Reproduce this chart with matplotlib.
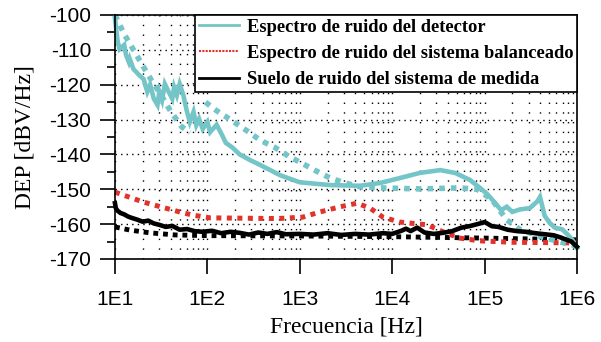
import numpy as np
from matplotlib import pyplot as plt
from matplotlib.lines import Line2D

plt.rcParams['axes.unicode_minus'] = False

# Frequencies are given as log10(f / Hz), levels in dBV/Hz
det_logf = [1.0, 1.02, 1.03, 1.05, 1.10, 1.12, 1.15, 1.16, 1.2, 1.26, 1.31, 1.35,
            1.38, 1.42, 1.46, 1.48, 1.51, 1.54, 1.58, 1.62, 1.64, 1.67, 1.70, 1.74,
            1.78, 1.81, 1.85, 1.88, 1.91, 1.95, 2.0, 2.03, 2.1, 2.16, 2.2, 2.27,
            2.35, 2.46, 2.57, 2.68, 2.79, 3.0, 3.33, 3.65, 3.87, 4.08, 4.3, 4.52,
            4.68, 4.84, 4.95, 5.03, 5.1, 5.18, 5.24, 5.3, 5.38, 5.49, 5.57, 5.6,
            5.65, 5.7, 5.76, 5.84, 5.9, 5.95, 6.0]
det_db = [-101.0, -105.7, -107.7, -109.8, -108.6, -111.5, -113.5, -112.6, -115.5, -117.2,
          -118.4, -122.0, -120.0, -124.0, -125.8, -122.0, -124.4, -119.8, -122.0, -124.0,
          -120.7, -123.0, -119.8, -123.0, -127.8, -130.7, -127.8, -131.6, -129.8, -132.7,
          -130.7, -133.6, -131.5, -134.5, -136.7, -138.0, -140.0, -141.6, -143.0, -144.5,
          -146.0, -148.0, -148.8, -149.0, -148.2, -146.8, -145.3, -144.5, -145.3, -147.3,
          -149.6, -151.4, -153.5, -156.0, -155.0, -156.5, -155.8, -155.4, -153.5, -152.2,
          -157.6, -159.5, -161.0, -161.5, -163.0, -164.5, -166.8]

# dotted fit of the detector spectrum (two pieces)
detfit_logf = [1.0, 1.10, 1.20, 1.30, 1.40, 1.50, 1.60, 1.72, 1.81, np.nan,
               1.98, 2.06, 2.14, 2.25, 2.36, 2.46, 2.57, 2.73, 2.89, 3.0, 3.16,
               3.33, 3.49, 3.65, 3.87, 4.3, 4.73, 4.92, 5.08, 5.24, 5.38, 5.6,
               5.8, 6.0]
detfit_db = [-100.0, -105.5, -110.0, -114.5, -119.0, -123.0, -127.5, -132.0, -133.8, np.nan,
             -125.0, -126.7, -128.2, -130.0, -132.0, -133.8, -135.9, -138.0, -140.7, -142.2,
             -144.5, -146.8, -148.2, -149.3, -149.6, -149.9, -149.6, -150.0, -153.0,
             -158.8, -161.5, -163.5, -165.0, -166.3]

bal_logf = [1.0, 1.02, 1.16, 1.3, 1.49, 1.7, 1.84, 2.03, 2.39, 2.76, 3.03, 3.22,
            3.44, 3.62, 3.76, 3.9, 4.08, 4.38, 4.55, 4.73, 4.95, 5.3, 5.7, 6.0]
bal_db = [-150.8, -151.0, -152.3, -153.6, -155.0, -156.5, -157.4, -158.2, -158.3, -158.4,
          -158.0, -156.5, -155.0, -154.0, -155.4, -158.0, -159.4, -160.2, -162.2, -164.0,
          -164.8, -165.2, -165.3, -165.4]

floor_logf = [1.0, 1.01, 1.03, 1.06, 1.10, 1.14, 1.18, 1.24, 1.30, 1.36, 1.42, 1.48,
              1.55, 1.62, 1.70, 1.78, 1.86, 1.95, 2.05, 2.15, 2.25, 2.35, 2.45, 2.55,
              2.65, 2.75, 2.85, 3.0, 3.15, 3.3, 3.45, 3.6, 3.75, 3.9, 4.0, 4.1,
              4.15, 4.2, 4.27, 4.35, 4.45, 4.55, 4.65, 4.75, 4.85, 4.95, 5.0,
              5.08, 5.15, 5.25, 5.35, 5.45, 5.55, 5.65, 5.75, 5.82, 5.88, 5.94, 6.0]
floor_db = [-154.0, -155.5, -156.2, -156.8, -157.2, -157.8, -158.2, -158.7, -159.3, -159.0,
            -159.8, -160.2, -160.8, -160.5, -161.6, -161.4, -162.0, -162.2, -161.9, -162.6,
            -162.2, -162.5, -163.0, -162.4, -162.8, -162.3, -162.9, -162.8, -163.0, -162.6,
            -163.1, -162.8, -163.0, -162.6, -162.8, -161.9, -161.3, -162.0, -161.0, -162.4,
            -162.8, -162.5, -162.0, -161.0, -160.5, -159.8, -159.4, -160.6, -160.8, -161.6,
            -162.0, -162.2, -162.6, -162.9, -163.2, -163.8, -164.4, -165.0, -166.5]

floorfit_logf = [1.0, 1.16, 1.38, 1.65, 2.0, 3.0, 4.0, 5.0, 6.0]
floorfit_db = [-160.8, -161.7, -162.5, -163.1, -163.3, -163.4, -163.6, -164.0, -164.5]

xtick_exp = [1, 2, 3, 4, 5, 6]
xtick_labels = ['1E1', '1E2', '1E3', '1E4', '1E5', '1E6']
ytick_vals = [-170, -160, -150, -140, -130, -120, -110, -100]

legend_labels = ['Espectro de ruido del detector',
                 'Espectro de ruido del sistema balanceado',
                 'Suelo de ruido del sistema de medida']

cyan = '#74c5c7'
red = '#e2332b'


def hz(logf):
    return 10 ** np.array(logf, dtype=float)


fig = plt.figure(figsize=(6.01, 3.42), dpi=100)
ax = fig.add_axes([0.1913, 0.2427, 0.7687, 0.7135])

ax.plot(hz(floorfit_logf), floorfit_db, color='black', lw=3.5,
        linestyle=(0, (1, 1.0)), dash_capstyle='butt', clip_on=False)
ax.plot(hz(bal_logf), bal_db, color=red, lw=3.6,
        linestyle=(0, (1, 1.1)), dash_capstyle='butt', clip_on=False)
ax.plot(hz(detfit_logf), detfit_db, color=cyan, lw=4.0,
        linestyle=(0, (1, 1.1)), dash_capstyle='butt', clip_on=False)
ax.plot(hz(det_logf), det_db, color=cyan, lw=3.3, solid_joinstyle='miter', clip_on=False)
ax.plot(hz(floor_logf), floor_db, color='black', lw=3.3, clip_on=False)

ax.set_xscale('log')
ax.set_xlim(10, 1e6)
ax.set_ylim(-170, -100)

ax.set_xticks(hz(xtick_exp))
ax.set_xticklabels(xtick_labels)
ax.xaxis.set_minor_locator(plt.LogLocator(base=10, subs=np.arange(2, 10)))
ax.set_yticks(ytick_vals)
ax.set_yticks(np.arange(-165, -100, 10), minor=True)
ax.tick_params(axis='x', which='major', direction='out', length=11, width=1.2,
               labelsize=15, pad=11)
ax.tick_params(axis='y', which='major', direction='out', length=11, width=1.2,
               labelsize=15, pad=6)
ax.tick_params(axis='x', which='minor', length=0)
ax.tick_params(axis='y', which='minor', direction='out', length=6, width=1.2)
for lab in ax.get_xticklabels() + ax.get_yticklabels():
    lab.set_fontfamily('Liberation Sans')

ax.set_axisbelow(True)
ax.grid(True, which='both', axis='x', color='black', lw=1.0, linestyle=(0, (1, 6)))
ax.grid(True, which='major', axis='y', color='black', lw=1.0, linestyle=(0, (1, 3)))
for sp in ax.spines.values():
    sp.set_linewidth(1.2)

ax.set_xlabel('Frecuencia [Hz]', fontsize=17, family='Liberation Serif', labelpad=6)
ax.set_ylabel('DEP [dBV/Hz]', fontsize=17, family='Liberation Serif', labelpad=10)

handles = [Line2D([], [], color=cyan, lw=2),
           Line2D([], [], color=red, lw=1.5, linestyle=(0, (1, 0.6))),
           Line2D([], [], color='black', lw=2)]
leg = ax.legend(handles, legend_labels, loc='upper right', fancybox=False,
                framealpha=1, edgecolor='black', handlelength=2.2, handletextpad=0.4,
                borderpad=0.2, borderaxespad=0, labelspacing=0.5,
                prop={'family': 'Liberation Serif', 'weight': 'bold', 'size': 13.3})
leg.get_frame().set_linewidth(1.2)
leg.set_zorder(5)

fig.savefig('out.png', dpi=100)
